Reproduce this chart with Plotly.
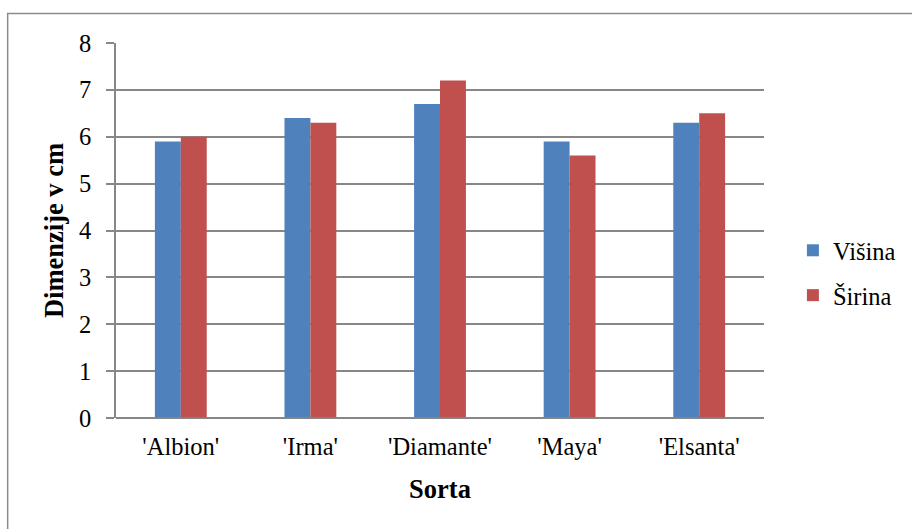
import plotly.graph_objects as go

# Fruit dimensions per strawberry cultivar
sorte = ["'Albion'", "'Irma'", "'Diamante'", "'Maya'", "'Elsanta'"]
visina = [5.9, 6.4, 6.7, 5.9, 6.3]
sirina = [6.0, 6.3, 7.2, 5.6, 6.5]

FONT = "Liberation Serif, Times New Roman, serif"
GRID = "#878787"
TXT = 24.5
TITLE = 26.5

fig = go.Figure()
fig.add_trace(go.Bar(name="Višina", x=sorte, y=visina, marker_color="#4f81bd",
                     marker_line_width=0, legendgroup="a"))
fig.add_trace(go.Bar(name="Širina", x=sorte, y=sirina, marker_color="#c0504d",
                     marker_line_width=0, legendgroup="b"))

fig.update_layout(
    width=912, height=529,
    margin=dict(l=116, r=147, t=43, b=111),
    paper_bgcolor="white", plot_bgcolor="white",
    barmode="group", bargap=0.6, bargroupgap=0,
    font=dict(family=FONT, size=TXT, color="black"),
    legend=dict(x=1.043, y=0.387, xanchor="left", yanchor="middle",
                font=dict(size=TXT), itemwidth=30, tracegroupgap=10,
                bgcolor="rgba(0,0,0,0)"),
    xaxis=dict(
        title=dict(text="<b>Sorta</b>", font=dict(size=TITLE), standoff=20),
        showline=False, showgrid=False, ticks="",
        tickfont=dict(size=TXT), ticklabelstandoff=11,
    ),
    yaxis=dict(
        title=dict(text="<b>Dimenzije v cm</b>", font=dict(size=TITLE), standoff=8),
        range=[0, 8], dtick=1, showgrid=True, gridcolor=GRID, gridwidth=1.5,
        showline=True, linecolor=GRID, linewidth=1.5,
        ticks="outside", ticklen=8, tickcolor=GRID, tickwidth=1.5,
        zeroline=True, zerolinecolor=GRID, zerolinewidth=1.5,
        tickfont=dict(size=TXT), ticklabelstandoff=10,
    ),
    shapes=[
        # outer chart frame
        dict(type="rect", xref="paper", yref="paper",
             x0=-0.1672, x1=1.23, y0=-0.31, y1=1.0787,
             line=dict(color="#8c8c8c", width=1.5), layer="below"),
        # baseline extending left beyond the axis
        dict(type="line", xref="paper", yref="y", x0=-0.0123, x1=1, y0=0, y1=0,
             line=dict(color=GRID, width=1.5)),
    ],
)

fig.write_html("out.html")
